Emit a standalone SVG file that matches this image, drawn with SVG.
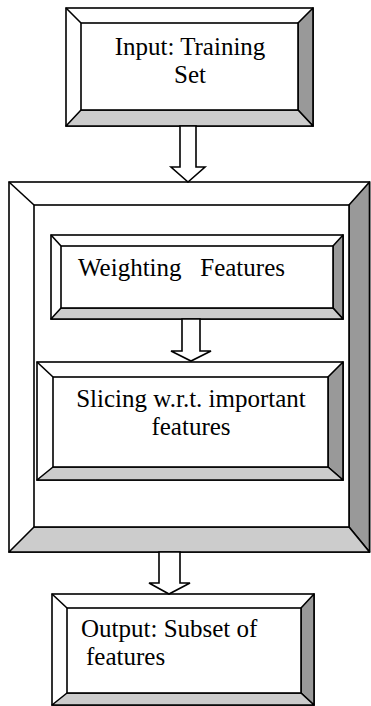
<svg xmlns="http://www.w3.org/2000/svg" width="371" height="706" viewBox="0 0 371 706">
<style>
.ln{fill:none;stroke:#000;stroke-width:1.6;stroke-linejoin:miter}
.wf{fill:#fff;stroke:#000;stroke-width:1.6}
.dk{fill:#999999;stroke:#000;stroke-width:1.6;stroke-linejoin:round}
.lt{fill:#cccccc;stroke:#000;stroke-width:1.6;stroke-linejoin:round}
.tx{font-family:"Liberation Serif","Times New Roman",serif;font-size:25px;fill:#000;white-space:pre}
</style>
<rect width="371" height="706" fill="#fff"/>
<g id="input">
<rect class="wf" x="66" y="8" width="247" height="118"/>
<polygon class="dk" points="298,23 313,8 313,126 298,110"/>
<polygon class="lt" points="81,110 298,110 313,126 66,126"/>
<rect class="wf" x="81" y="23" width="217" height="87"/>
<path class="ln" d="M66,8 L81,23"/>
<text class="tx" x="190" y="55" text-anchor="middle">Input: Training</text>
<text class="tx" x="190" y="83" text-anchor="middle">Set</text>
</g>
<g id="process">
<rect class="wf" x="9" y="182" width="360.5" height="370"/>
<polygon class="dk" points="349,205 369.5,182 369.5,552 349,527"/>
<polygon class="lt" points="34,527 349,527 369.5,552 9,552"/>
<rect class="wf" x="34" y="205" width="315" height="322"/>
<path class="ln" d="M9,182 L34,205"/>
</g>
<g id="weighting">
<rect class="wf" x="51" y="235" width="292" height="84"/>
<polygon class="dk" points="333,246 343,235 343,319 333,308"/>
<polygon class="lt" points="61,308 333,308 343,319 51,319"/>
<rect class="wf" x="61" y="246" width="272" height="62"/>
<path class="ln" d="M51,235 L61,246"/>
<text class="tx" x="78" y="276">Weighting   Features</text>
</g>
<g id="slicing">
<rect class="wf" x="37" y="362" width="306" height="118"/>
<polygon class="dk" points="328,377 343,362 343,480 328,467"/>
<polygon class="lt" points="53,467 328,467 343,480 37,480"/>
<rect class="wf" x="53" y="377" width="275" height="90"/>
<path class="ln" d="M37,362 L53,377"/>
<text class="tx" x="191" y="407" text-anchor="middle">Slicing w.r.t. important</text>
<text class="tx" x="191" y="435" text-anchor="middle">features</text>
</g>
<g id="output">
<rect class="wf" x="52" y="594" width="262" height="111"/>
<polygon class="dk" points="301,608 314,594 314,705 301,693"/>
<polygon class="lt" points="67,693 301,693 314,705 52,705"/>
<rect class="wf" x="67" y="608" width="234" height="85"/>
<path class="ln" d="M52,594 L67,608"/>
<text class="tx" x="81" y="637">Output: Subset of</text>
<text class="tx" x="86" y="665">features</text>
</g>
<g id="connectors">
<path class="wf" d="M180,126 V167 H171 L188,182 L205,167 H196 V126 Z"/>
<path class="wf" d="M182,319 V351 H171 L191,361 L211,351 H200 V319 Z"/>
<path class="wf" d="M159,552 V583 H149 L169,594 L190,583 H180 V552 Z"/>
</g>
</svg>
